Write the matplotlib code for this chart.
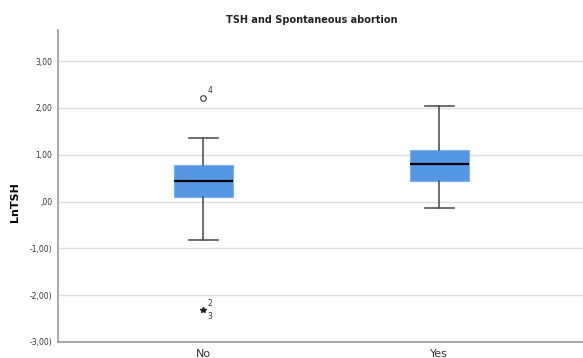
import matplotlib.pyplot as plt
from matplotlib.ticker import FuncFormatter

# Box summary values (LnTSH)
groups = ["No", "Yes"]
whisker_low = [-0.83, -0.14]
q1 = [0.09, 0.43]
median = [0.43, 0.81]
q3 = [0.77, 1.11]
whisker_high = [1.35, 2.04]

# Outliers of the "No" group: (value, case label)
mild_values = [2.22]
mild_labels = ["4"]
extreme_values = [-2.31]
extreme_labels = ["2", "3"]

yticks = [-3, -2, -1, 0, 1, 2, 3]


def spss_fmt(v, pos):
    # SPSS style: comma decimals, leading zero dropped
    s = f"{abs(v):.2f}".replace(".", ",")
    if s.startswith("0"):
        s = s[1:]
    if v < 0:
        return "-" + s + ")"
    return s


stats = []
for i, g in enumerate(groups):
    stats.append({
        "label": g,
        "whislo": whisker_low[i],
        "q1": q1[i],
        "med": median[i],
        "q3": q3[i],
        "whishi": whisker_high[i],
        "fliers": [],
    })

fig = plt.figure(figsize=(5.83, 3.58), dpi=100)
ax = fig.add_axes([0.0995, 0.0447, 0.905, 0.871])

ax.bxp(
    stats,
    positions=[1, 2],
    widths=0.25,
    patch_artist=True,
    showfliers=False,
    boxprops=dict(facecolor="#5597e4", edgecolor="#7fb0ee", linewidth=0.8),
    medianprops=dict(color="black", linewidth=1.6),
    whiskerprops=dict(color="#555555", linewidth=1.2),
    capprops=dict(color="#555555", linewidth=1.2),
    capwidths=0.125,
    zorder=3,
)

# outliers for "No"
ax.plot([1] * len(mild_values), mild_values, "o", ms=4, mfc="white",
        mec="#333333", mew=0.8, zorder=4)
for v, lab in zip(mild_values, mild_labels):
    ax.annotate(lab, (1, v), xytext=(3, 3), textcoords="offset points",
                fontsize=5.5, color="#333333")
ax.plot([1] * len(extreme_values), extreme_values, "*", ms=4,
        color="#222222", zorder=4)
ax.annotate(extreme_labels[0], (1, extreme_values[0]), xytext=(3, 3),
            textcoords="offset points", fontsize=5.5, color="#333333")
ax.annotate(extreme_labels[1], (1, extreme_values[0]), xytext=(3, -7),
            textcoords="offset points", fontsize=5.5, color="#333333")

ax.set_xlim(0.384, 2.62)
ax.set_ylim(-3, 3.66)
ax.set_yticks(yticks)
ax.yaxis.set_major_formatter(FuncFormatter(spss_fmt))
ax.set_xticks([1, 2])
ax.set_xticklabels(groups)
ax.tick_params(axis="y", labelsize=5.5, length=0, pad=4, colors="#333333")
ax.tick_params(axis="x", labelsize=8, length=0, pad=5, colors="#333333")
ax.grid(axis="y", color="#dddddd", linewidth=1.0, zorder=0)
ax.set_axisbelow(True)

for side in ["top", "right"]:
    ax.spines[side].set_visible(False)
for side in ["left", "bottom"]:
    ax.spines[side].set_color("#999999")
    ax.spines[side].set_linewidth(1.2)

ax.set_ylabel("LnTSH", fontsize=8, fontweight="bold")
ax.yaxis.set_label_coords(-0.072, 0.45)
fig.text(0.535, 0.935, "TSH and Spontaneous abortion", ha="center",
         fontsize=7, fontweight="bold", color="#222222")

fig.savefig("out.png", dpi=100)
